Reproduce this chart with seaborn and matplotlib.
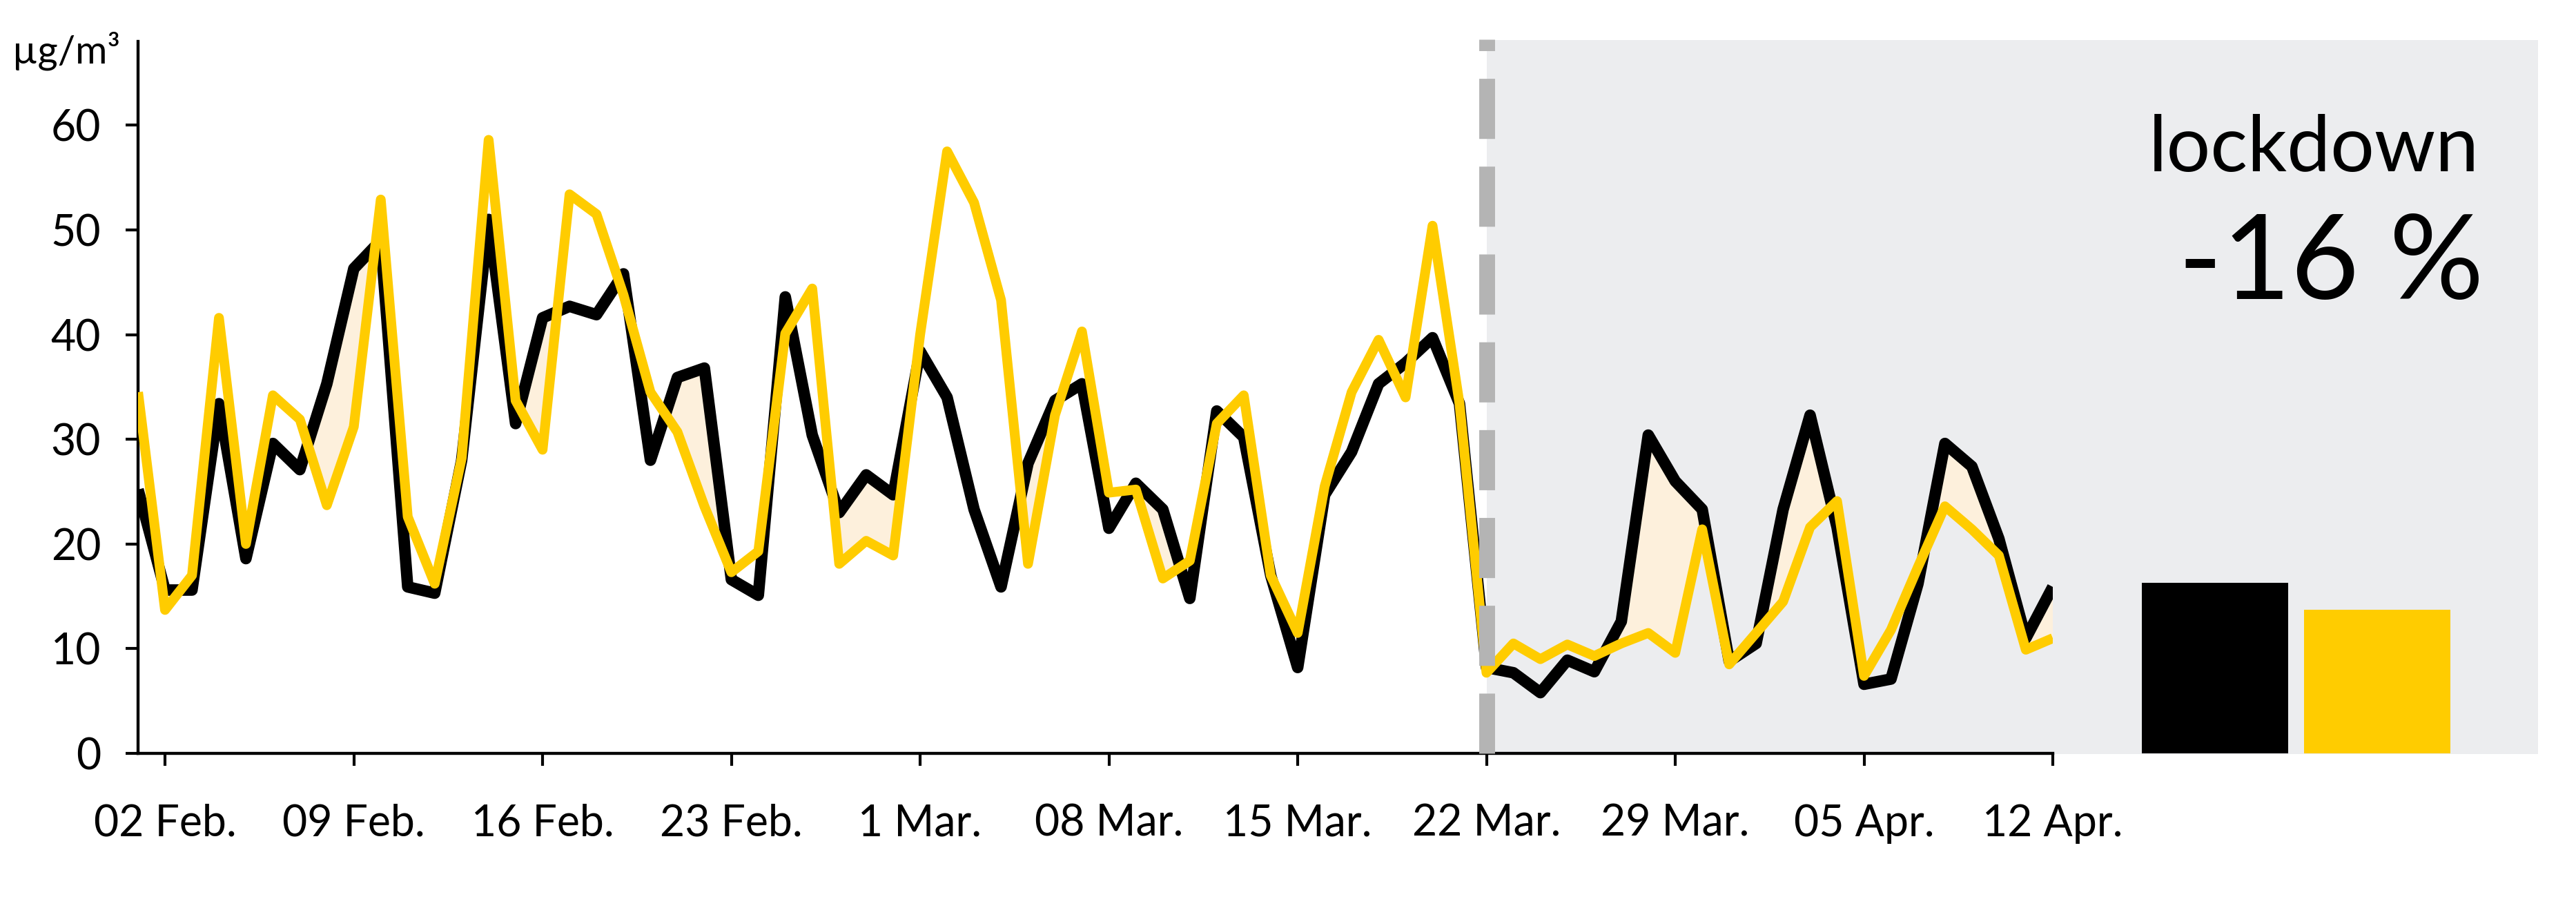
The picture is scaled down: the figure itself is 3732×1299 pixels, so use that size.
import pandas as pd
import seaborn as sns
import matplotlib.pyplot as plt
from matplotlib.patches import Rectangle

# daily values Feb 1 - Apr 12 2020 (µg/m3)
dates = pd.date_range("2020-02-01", "2020-04-12", freq="D")
black_vals = [25.2, 15.6, 15.6, 33.4, 18.6, 29.6, 27.1, 35.3, 46.3, 49.0,
              15.9, 15.3, 28.0, 51.0, 31.5, 41.6, 42.7, 41.9, 45.8, 28.0,
              35.9, 36.8, 16.6, 15.1, 43.6, 30.4, 23.0, 26.6, 24.7, 38.4,
              34.0, 23.3, 15.9, 27.7, 33.7, 35.3, 21.5, 25.8, 23.3, 14.8,
              32.7, 30.2, 17.0, 8.2, 24.7, 28.8, 35.3, 37.3, 39.7, 33.4,
              8.2, 7.7, 5.8, 8.9, 7.8, 12.6, 30.4, 26.0, 23.3, 8.8,
              10.5, 23.3, 32.3, 21.6, 6.6, 7.1, 16.2, 29.6, 27.4, 20.5,
              11.0, 15.9]
yellow_vals = [34.5, 13.7, 17.0, 41.6, 20.0, 34.2, 31.9, 23.7, 31.2, 52.9,
               22.6, 16.2, 28.2, 58.6, 33.7, 29.0, 53.4, 51.5, 43.8, 34.5,
               30.7, 23.6, 17.3, 19.3, 40.1, 44.4, 18.1, 20.3, 18.9, 40.0,
               57.5, 52.6, 43.3, 18.1, 32.3, 40.3, 24.9, 25.2, 16.7, 18.4,
               31.5, 34.2, 17.0, 11.5, 25.5, 34.5, 39.5, 34.0, 50.4, 33.4,
               7.7, 10.5, 9.0, 10.4, 9.3, 10.5, 11.5, 9.6, 21.4, 8.5,
               11.5, 14.5, 21.6, 24.1, 7.4, 11.8, 17.8, 23.6, 21.4, 18.9,
               9.9, 11.0]
tick_dates = ["2020-02-02", "2020-02-09", "2020-02-16", "2020-02-23", "2020-03-01",
              "2020-03-08", "2020-03-15", "2020-03-22", "2020-03-29", "2020-04-05",
              "2020-04-12"]
tick_labels = ["02 Feb.", "09 Feb.", "16 Feb.", "23 Feb.", "1 Mar.", "08 Mar.",
               "15 Mar.", "22 Mar.", "29 Mar.", "05 Apr.", "12 Apr."]
lockdown_date = "2020-03-22"
bar_names = ["avant", "lockdown"]
bar_vals = [16.3, 13.7]

BLACK = "#000000"
YELLOW = "#FFCC00"
FILL = "#FDF0DC"
GREY_BG = "#ECEDEF"
DASH = "#B4B4B4"

sns.set_style("white")
plt.rcParams["font.family"] = ["Lato", "DejaVu Sans"]
plt.rcParams["text.color"] = BLACK

df = pd.DataFrame({"date": dates, "black": black_vals, "yellow": yellow_vals})

fig = plt.figure(figsize=(3732 / 300, 1299 / 300), dpi=300)
ax = fig.add_axes([200 / 3732, 208 / 1299, 2774 / 3732, 1031 / 1299])
axb = fig.add_axes([3068 / 3732, 208 / 1299, 517 / 3732, 1031 / 1299])
for a in (ax, axb):
    a.set_facecolor("none")

ymax = 68
ax.set_xlim(dates[0], dates[-1])
ax.set_ylim(0, ymax)

# grey lockdown background
ld = pd.Timestamp(lockdown_date)
ld_num = (ld - pd.Timestamp("1970-01-01")).days
x0 = fig.transFigure.inverted().transform(ax.transData.transform((ld_num, 0)))[0]
fig.patches.append(Rectangle((x0, 207 / 1299), 3677 / 3732 - x0, 1034 / 1299,
                             transform=fig.transFigure, facecolor=GREY_BG,
                             edgecolor="none", zorder=-1))

ax.fill_between(df["date"], df["black"], df["yellow"], where=df["black"] > df["yellow"],
                interpolate=True, color=FILL, linewidth=0, zorder=1)
sns.lineplot(data=df, x="date", y="black", ax=ax, color=BLACK, linewidth=4.0,
             solid_joinstyle="round", solid_capstyle="butt", zorder=2)
sns.lineplot(data=df, x="date", y="yellow", ax=ax, color=YELLOW, linewidth=3.4,
             solid_joinstyle="round", solid_capstyle="butt", zorder=3)

ax.plot([ld, ld], [0, ymax + 0.2], color=DASH, linewidth=5.5,
        linestyle=(0, (3.8, 1.75)), dash_capstyle="butt", zorder=4, clip_on=False)

ax.set_xticks(pd.to_datetime(tick_dates))
ax.set_xticklabels(tick_labels)
ax.set_yticks(range(0, 61, 10))
ax.set_xlabel("")
ax.set_ylabel("")
sns.despine(ax=ax)
for s in ("left", "bottom"):
    ax.spines[s].set_linewidth(1.05)
    ax.spines[s].set_color(BLACK)
ax.tick_params(axis="both", direction="out", length=4.4, width=1.0, color=BLACK,
               labelsize=15, labelcolor=BLACK)
ax.tick_params(axis="x", pad=13, bottom=True)
ax.tick_params(axis="y", pad=8.5, left=True)

# comparison bars
sns.barplot(x=bar_names, y=bar_vals, hue=bar_names, palette=[BLACK, YELLOW],
            width=0.9, ax=axb, legend=False, saturation=1, linewidth=0)
axb.set_xlim(-0.6, 1.6)
axb.set_ylim(0, ymax)
axb.axis("off")

fig.text(18 / 3732, 1 - 91 / 1299, "µg/m³", fontsize=13.5, ha="left", va="baseline")
fig.text(3592 / 3732, 1 - 248 / 1299, "lockdown", fontsize=27,
         ha="right", va="baseline")
fig.text(3598 / 3732, 1 - 433 / 1299, "-16 %", fontsize=41,
         ha="right", va="baseline")

fig.savefig("out.png", dpi=300, facecolor="white")
